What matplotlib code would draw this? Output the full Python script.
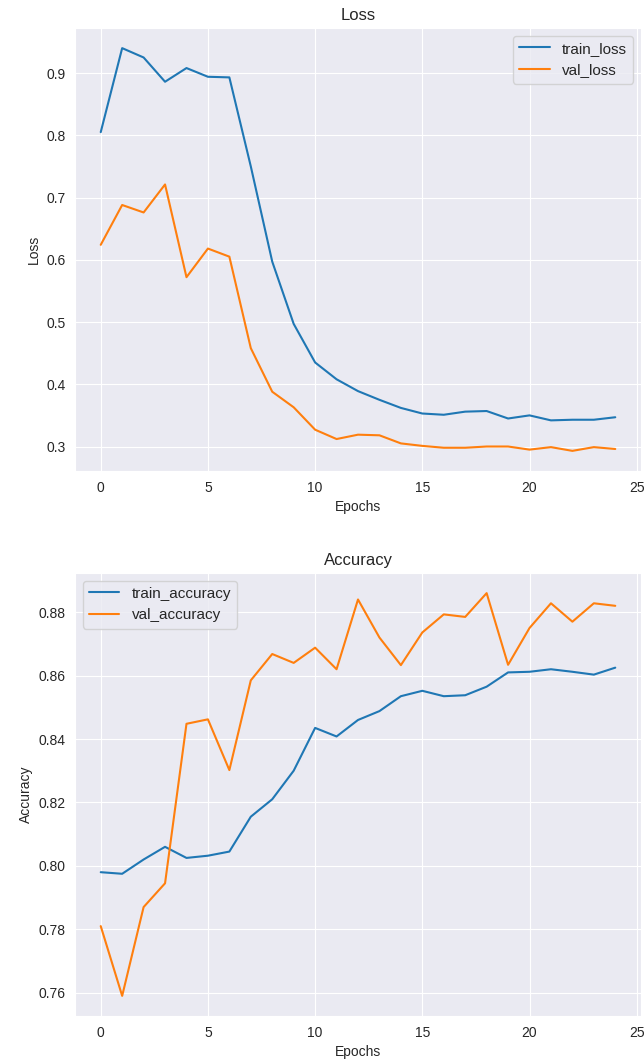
import matplotlib
matplotlib.use("Agg")
import matplotlib.pyplot as plt
import seaborn as sns

sns.set_style("darkgrid")
plt.rcParams["font.family"] = ["Liberation Sans", "DejaVu Sans"]

epochs = list(range(25))

train_loss = [0.805, 0.940, 0.925, 0.886, 0.908, 0.894, 0.893, 0.750, 0.597, 0.497,
              0.435, 0.408, 0.389, 0.375, 0.362, 0.353, 0.351, 0.356, 0.357, 0.345,
              0.350, 0.342, 0.343, 0.343, 0.347]
val_loss = [0.624, 0.688, 0.676, 0.721, 0.572, 0.618, 0.605, 0.458, 0.388, 0.363,
            0.327, 0.312, 0.319, 0.318, 0.305, 0.301, 0.298, 0.298, 0.300, 0.300,
            0.295, 0.299, 0.293, 0.299, 0.296]

train_acc = [0.798, 0.7975, 0.802, 0.806, 0.8025, 0.8032, 0.8045, 0.8155, 0.821, 0.830,
             0.8435, 0.8408, 0.846, 0.8488, 0.8535, 0.8552, 0.8535, 0.8538, 0.8565, 0.861,
             0.8612, 0.862, 0.8612, 0.8603, 0.8625]
val_acc = [0.781, 0.759, 0.787, 0.7945, 0.8448, 0.8462, 0.8302, 0.8585, 0.8668, 0.864,
           0.8688, 0.862, 0.884, 0.872, 0.8633, 0.8736, 0.8793, 0.8785, 0.886, 0.8634,
           0.875, 0.8828, 0.877, 0.8828, 0.882]

W, H = 644, 1062
fig = plt.figure(figsize=(W / 100, H / 100), dpi=100)
ax1 = fig.add_axes([75 / W, 1 - 471 / H, 566 / W, 443 / H])
ax2 = fig.add_axes([75 / W, 1 - 1016 / H, 566 / W, 443 / H])

ax1.plot(epochs, train_loss, label="train_loss", lw=1.5)
ax1.plot(epochs, val_loss, label="val_loss", lw=1.5)
ax1.set_title("Loss", fontsize=12)
ax1.set_xlabel("Epochs", fontsize=10)
ax1.set_ylabel("Loss", fontsize=10)
ax1.legend(loc="upper right", fontsize=11)

ax2.plot(epochs, train_acc, label="train_accuracy", lw=1.5)
ax2.plot(epochs, val_acc, label="val_accuracy", lw=1.5)
ax2.set_title("Accuracy", fontsize=12)
ax2.set_xlabel("Epochs", fontsize=10)
ax2.set_ylabel("Accuracy", fontsize=10)
ax2.legend(loc="upper left", fontsize=11)

for ax in (ax1, ax2):
    ax.tick_params(labelsize=10)

fig.savefig("out.png", dpi=100)
